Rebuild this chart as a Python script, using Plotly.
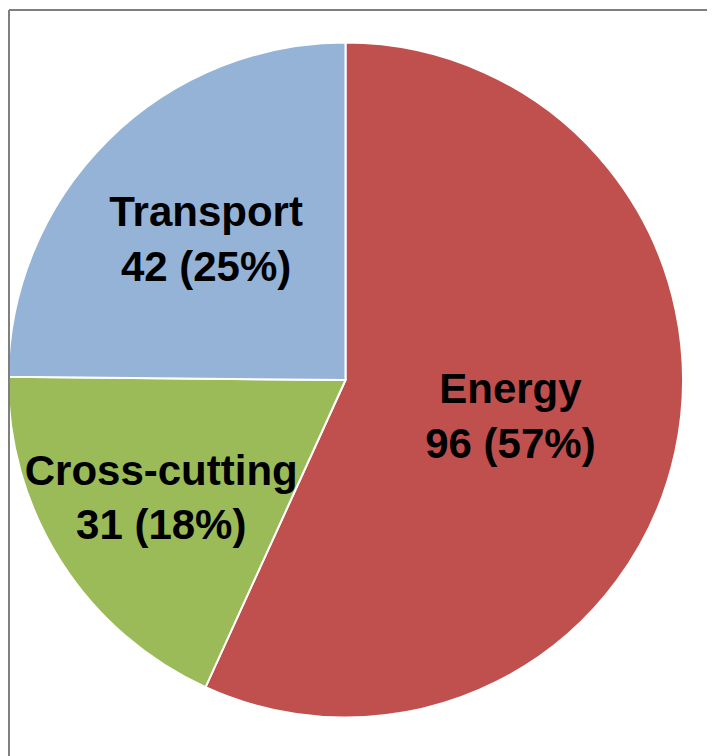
import plotly.graph_objects as go

categories = ["Energy", "Cross-cutting", "Transport"]
values = [96, 31, 42]
colors = ["#C0504D", "#9BBB59", "#95B3D7"]

W, H = 715, 756
cx, cy, r = 337.5, 372, 337.5

fig = go.Figure(go.Pie(
    labels=categories,
    values=values,
    sort=False,
    direction="clockwise",
    rotation=0,
    marker=dict(colors=colors, line=dict(color="white", width=2)),
    texttemplate="<b>%{label}</b><br><b>%{value} (%{percent:.0%})</b>",
    textposition="inside",
    insidetextorientation="horizontal",
    insidetextfont=dict(family="Liberation Sans, Arial, sans-serif", size=42, color="black"),
    hoverinfo="label+value+percent",
    domain=dict(x=[max(0, (cx - r) / W), (cx + r) / W], y=[1 - (cy + r) / H, 1 - (cy - r) / H]),
    showlegend=False,
))

fig.update_layout(
    width=W, height=H,
    margin=dict(l=0, r=0, t=0, b=0),
    paper_bgcolor="white",
    plot_bgcolor="white",
    uniformtext=dict(minsize=42, mode="show"),
    shapes=[
        dict(type="line", xref="paper", yref="paper", x0=1 / W, x1=1.05, y0=1 - 2 / H, y1=1 - 2 / H,
             line=dict(color="#7F7F7F", width=2)),
        dict(type="line", xref="paper", yref="paper", x0=1 / W, x1=1 / W, y0=1 - 2 / H, y1=-0.05,
             line=dict(color="#7F7F7F", width=2)),
    ],
)

fig.write_html("out.html")
